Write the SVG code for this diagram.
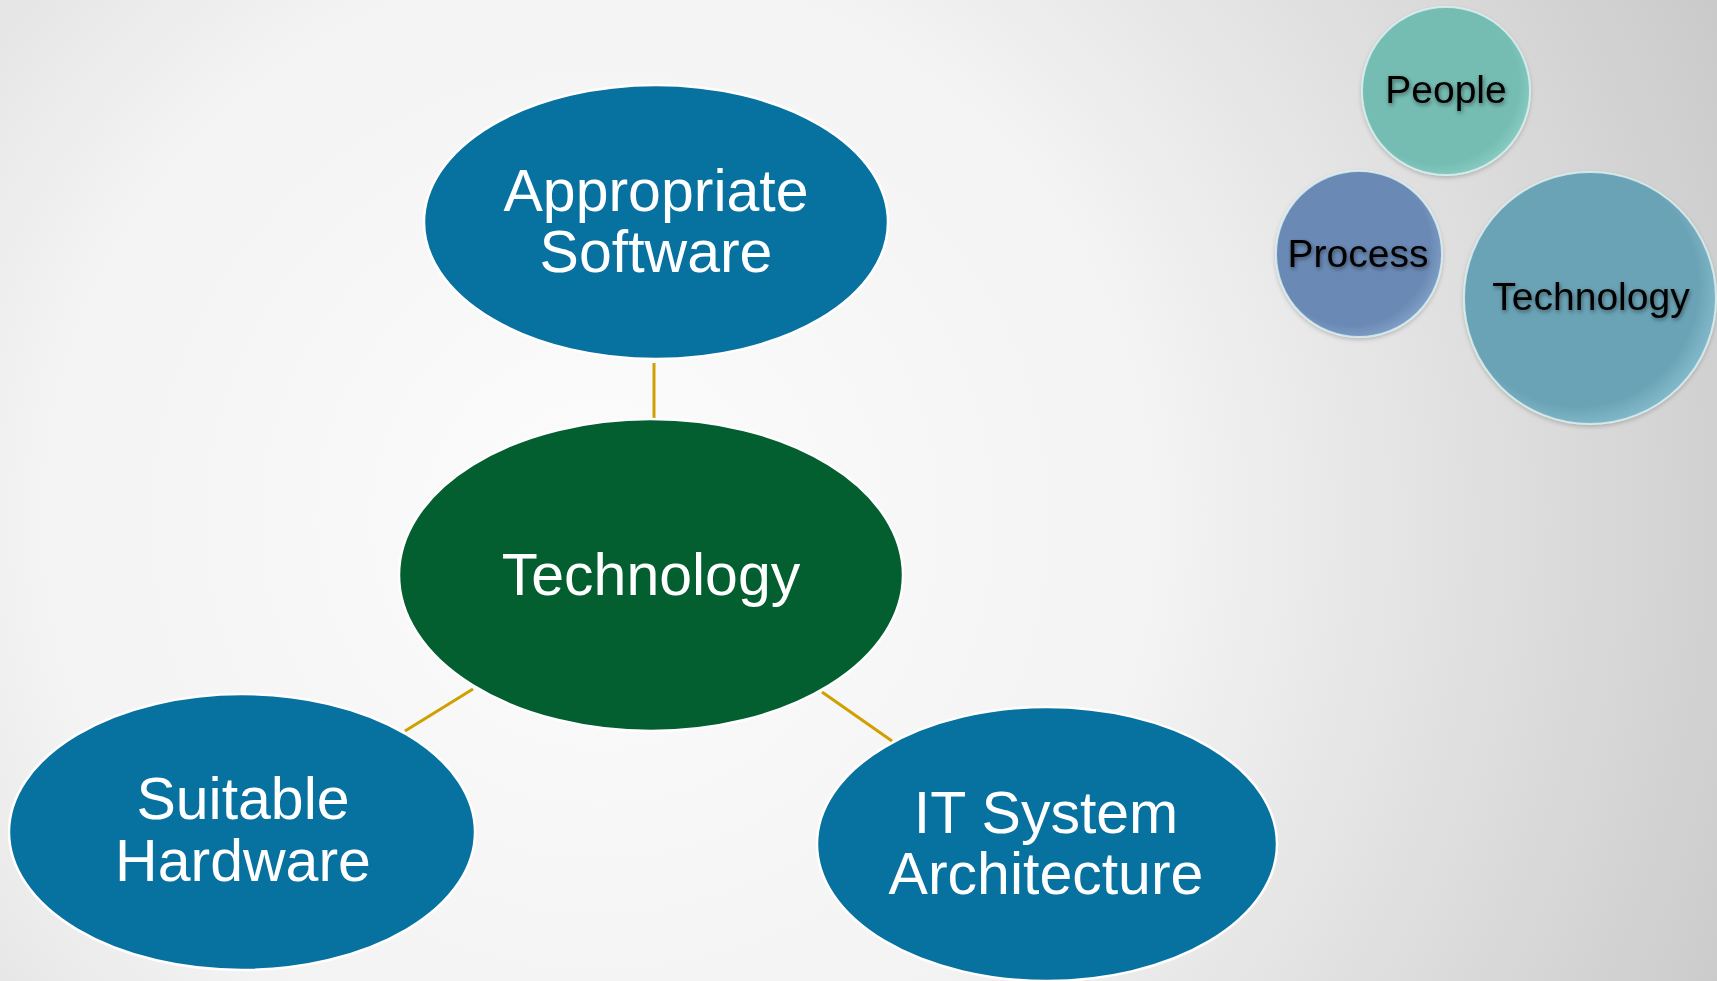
<svg xmlns="http://www.w3.org/2000/svg" width="1717" height="981" viewBox="0 0 1717 981">
  <defs>
    <radialGradient id="bg" cx="600" cy="520" r="1250" gradientUnits="userSpaceOnUse">
      <stop offset="0" stop-color="#FCFCFC"/>
      <stop offset="0.45" stop-color="#F3F3F3"/>
      <stop offset="1" stop-color="#C9C9C9"/>
    </radialGradient>
    <radialGradient id="gPeople" cx="0.45" cy="0.45" r="0.6">
      <stop offset="0.8" stop-color="#74BCB2"/>
      <stop offset="1" stop-color="#8FD0C6"/>
    </radialGradient>
    <radialGradient id="gProcess" cx="0.45" cy="0.45" r="0.6">
      <stop offset="0.8" stop-color="#6A8AB5"/>
      <stop offset="1" stop-color="#86A6CC"/>
    </radialGradient>
    <radialGradient id="gTech" cx="0.45" cy="0.45" r="0.6">
      <stop offset="0.8" stop-color="#6BA3B6"/>
      <stop offset="1" stop-color="#8CC2D2"/>
    </radialGradient>
    <filter id="tshadow" x="-20%" y="-40%" width="140%" height="180%">
      <feDropShadow dx="1" dy="2" stdDeviation="2" flood-color="#000" flood-opacity="0.45"/>
    </filter>
    <filter id="bshadow" x="-20%" y="-20%" width="140%" height="140%">
      <feDropShadow dx="0" dy="2" stdDeviation="2" flood-color="#000" flood-opacity="0.2"/>
    </filter>
  </defs>
  <style>
    .blue { fill: #07719F; stroke: #FFFFFF; stroke-width: 2.5; }
    .green { fill: #035F30; stroke: #FFFFFF; stroke-width: 2.5; }
    .big { font-family: "Liberation Sans", Arial, sans-serif; font-size: 59px; fill: #FFFFFF; text-anchor: middle; }
    .bub { font-family: "Liberation Sans", Arial, sans-serif; font-size: 39px; fill: #000000; text-anchor: middle; }
    .bubc { stroke: #DDF3F3; stroke-width: 2; stroke-opacity: 0.8; }
    .conn { stroke: #CFA000; stroke-width: 3; fill: none; }
  </style>
  <rect width="1717" height="981" fill="url(#bg)"/>

  <g id="connectors">
    <line class="conn" x1="654" y1="363" x2="654" y2="418"/>
    <line class="conn" x1="405" y1="731" x2="473" y2="689"/>
    <line class="conn" x1="822" y1="692" x2="892" y2="741"/>
  </g>

  <g id="appropriate-software">
    <ellipse class="blue" cx="656" cy="222" rx="232" ry="137"/>
    <text class="big" x="656" y="211">Appropriate</text>
    <text class="big" x="656" y="272">Software</text>
  </g>

  <g id="technology-center">
    <ellipse class="green" cx="651" cy="575" rx="252" ry="156"/>
    <text class="big" x="651" y="595">Technology</text>
  </g>

  <g id="suitable-hardware">
    <ellipse class="blue" cx="242" cy="832" rx="233" ry="138"/>
    <text class="big" x="243" y="819">Suitable</text>
    <text class="big" x="243" y="881">Hardware</text>
  </g>

  <g id="it-system-architecture">
    <ellipse class="blue" cx="1047" cy="844" rx="230" ry="137"/>
    <text class="big" x="1046" y="833">IT System</text>
    <text class="big" x="1046" y="894">Architecture</text>
  </g>

  <g id="people">
    <circle class="bubc" cx="1446" cy="91" r="84" fill="url(#gPeople)" filter="url(#bshadow)"/>
    <text class="bub" x="1446" y="103" filter="url(#tshadow)">People</text>
  </g>

  <g id="process">
    <circle class="bubc" cx="1359" cy="254" r="83" fill="url(#gProcess)" filter="url(#bshadow)"/>
    <text class="bub" x="1358" y="267" filter="url(#tshadow)">Process</text>
  </g>

  <g id="technology-bubble">
    <circle class="bubc" cx="1590" cy="298" r="126" fill="url(#gTech)" filter="url(#bshadow)"/>
    <text class="bub" x="1591" y="310" filter="url(#tshadow)">Technology</text>
  </g>
</svg>
